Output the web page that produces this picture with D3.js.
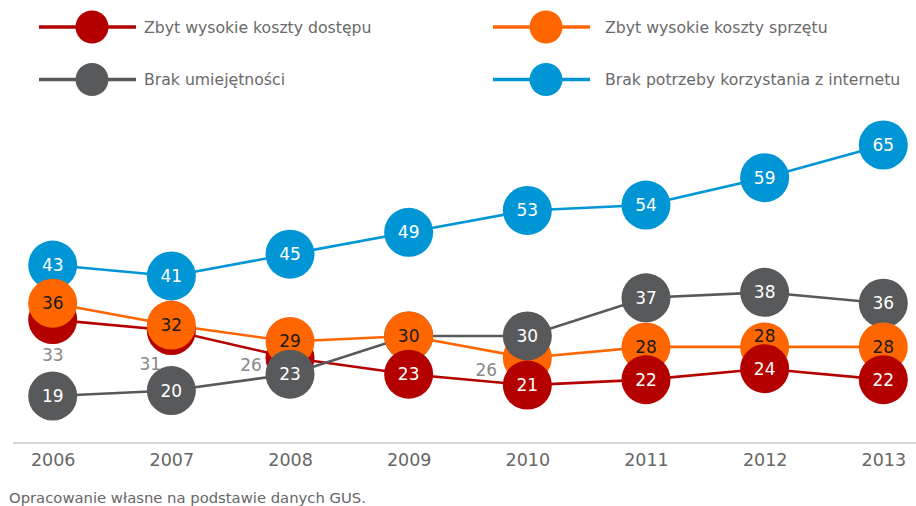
<!DOCTYPE html>
<html>
<head>
<meta charset="utf-8">
<script src="https://cdn.jsdelivr.net/npm/d3@7/dist/d3.min.js"></script>
<style>
  html, body { margin: 0; padding: 0; background: #fff; }
  svg { display: block; }
  text { font-family: "DejaVu Sans", sans-serif; }
</style>
</head>
<body>
<svg id="chart" width="916" height="506"></svg>
<script>
// ---- data ----
const years = ["2006", "2007", "2008", "2009", "2010", "2011", "2012", "2013"];
const seriesNames = [
  "Zbyt wysokie koszty dostępu",
  "Zbyt wysokie koszty sprzętu",
  "Brak umiejętności",
  "Brak potrzeby korzystania z internetu"
];
const kosztyDostepu = [33, 31, 26, 23, 21, 22, 24, 22];
const kosztySprzetu = [36, 32, 29, 30, 26, 28, 28, 28];
const brakUmiejetnosci = [19, 20, 23, 30, 30, 37, 38, 36];
const brakPotrzeby = [43, 41, 45, 49, 53, 54, 59, 65];
const footnote = "Opracowanie własne na podstawie danych GUS.";

// ---- styles ----
const colors = ["#b50000", "#ff6600", "#58595b", "#0096d6"];
const labelColors = ["#ffffff", "#1a1a1a", "#ffffff", "#ffffff"];
const seriesValues = [kosztyDostepu, kosztySprzetu, brakUmiejetnosci, brakPotrzeby];

// drawing order of circles per year (series index, bottom -> top)
const stackOrder = [
  [3, 0, 1, 2], [3, 0, 1, 2], [3, 0, 1, 2],
  [3, 2, 1, 0],
  [3, 1, 2, 0], [3, 1, 2, 0], [3, 1, 2, 0], [3, 2, 1, 0]
];
// labels of covered circles: placed outside as grey text  (series, yearIndex, dx, dy)
const outsideLabels = [
  [0, 0, 0, 35], [0, 1, -21, 33], [0, 2, -39, 7], [1, 4, -41, 12]
];
// labels shifted inside their circle (series, yearIndex, dx, dy)
const shiftedLabels = [[1, 6, 0, -11]];

const svg = d3.select("#chart");

const x = d3.scalePoint().domain(years).range([52.7, 883.3]);
const y = d3.scaleLinear().domain([19, 65]).range([396, 145]);
const R = 24.5;

// axis baseline
const axis = d3.axisBottom(x).tickSize(0).tickPadding(11);
const axisG = svg.append("g").attr("transform", "translate(0,443)").call(axis);
axisG.select(".domain").remove();
svg.insert("line", ":first-child")
  .attr("x1", 13).attr("x2", 916).attr("y1", 443).attr("y2", 443)
  .attr("stroke", "#d6d6d6").attr("stroke-width", 2.2);
axisG.selectAll("text")
  .attr("font-family", "DejaVu Sans, sans-serif")
  .attr("font-size", 17.5).attr("fill", "#666");

// lines
const line = d3.line().x((d, i) => x(years[i])).y(d => y(d));
const linesG = svg.append("g");
seriesValues.forEach((vals, s) => {
  linesG.append("path").datum(vals)
    .attr("d", line).attr("fill", "none")
    .attr("stroke", colors[s]).attr("stroke-width", 2.6);
});

// circles + labels
const pointsG = svg.append("g");
years.forEach((yr, i) => {
  stackOrder[i].forEach(s => {
    const v = seriesValues[s][i];
    const cx = x(yr), cy = y(v);
    const g = pointsG.append("g");
    g.append("circle").attr("cx", cx).attr("cy", cy).attr("r", R).attr("fill", colors[s]);
    const hidden = outsideLabels.some(o => o[0] === s && o[1] === i);
    if (!hidden) {
      const sh = shiftedLabels.find(o => o[0] === s && o[1] === i);
      const dx = sh ? sh[2] : 0, dy = sh ? sh[3] : 0;
      g.append("text").attr("x", cx + dx).attr("y", cy + dy)
        .attr("text-anchor", "middle").attr("dominant-baseline", "central")
        .attr("font-size", 17).attr("fill", labelColors[s]).text(v);
    }
  });
});
// outside labels on top
outsideLabels.forEach(o => {
  const [s, i, dx, dy] = o;
  const v = seriesValues[s][i];
  svg.append("text").attr("x", x(years[i]) + dx).attr("y", y(v) + dy)
    .attr("text-anchor", "middle").attr("dominant-baseline", "central")
    .attr("font-size", 17).attr("fill", "#888").text(v);
});

// legend
const legendPos = [[39, 27], [493, 27], [39, 79.5], [493, 79.5]];
seriesNames.forEach((name, s) => {
  const [lx, ly] = legendPos[s];
  const g = svg.append("g").attr("transform", `translate(${lx},${ly})`);
  g.append("line").attr("x1", 0).attr("x2", 97).attr("y1", 0).attr("y2", 0)
    .attr("stroke", colors[s]).attr("stroke-width", 3.5);
  g.append("circle").attr("cx", 53).attr("cy", 0).attr("r", 16.5).attr("fill", colors[s]);
  g.append("text").attr("x", s % 2 === 0 ? 105 : 112).attr("y", 0)
    .attr("dominant-baseline", "central")
    .attr("font-size", 15.7).attr("fill", "#6a6a6a").text(name);
});

// footnote
svg.append("text").attr("x", 9).attr("y", 503)
  .attr("font-size", 14.8).attr("fill", "#666").text(footnote);
</script>
</body>
</html>
